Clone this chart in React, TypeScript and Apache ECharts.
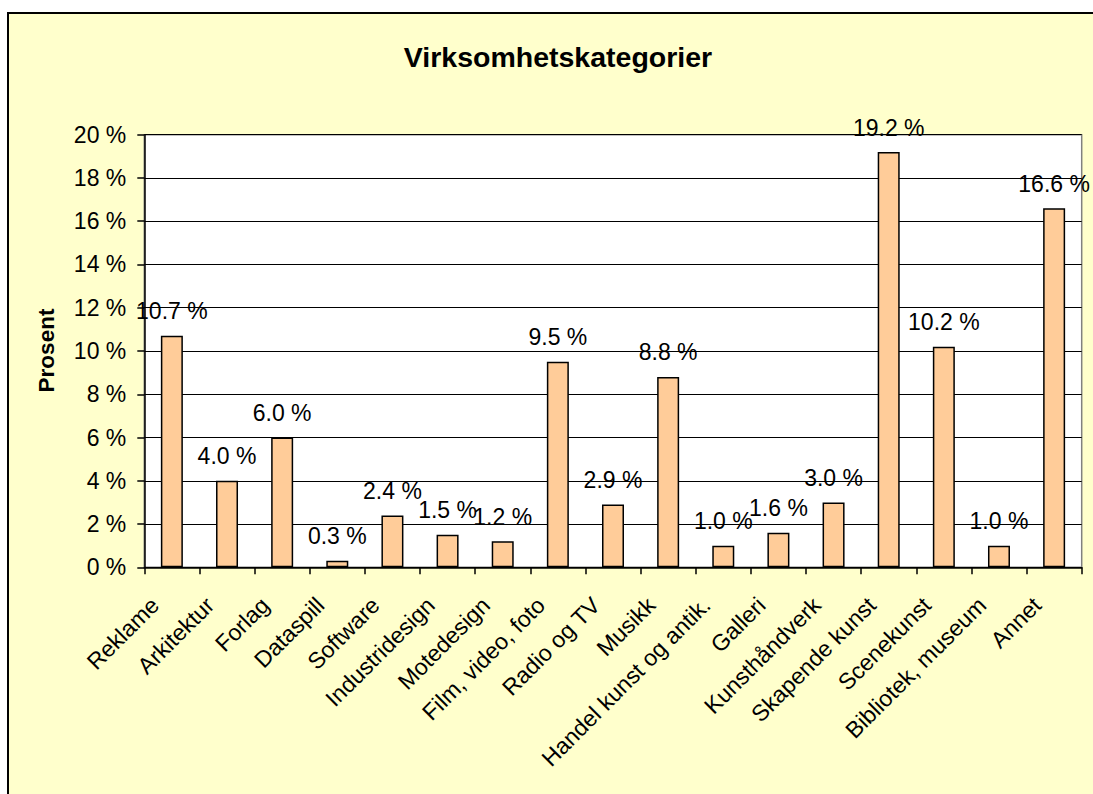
import React, { useEffect, useRef } from "react";
import * as echarts from "echarts";

const categories = [
  "Reklame", "Arkitektur", "Forlag", "Dataspill", "Software", "Industridesign",
  "Motedesign", "Film, video, foto", "Radio og TV", "Musikk", "Handel kunst og antik.",
  "Galleri", "Kunsthåndverk", "Skapende kunst", "Scenekunst", "Bibliotek, museum", "Annet",
];
const values = [10.7, 4.0, 6.0, 0.3, 2.4, 1.5, 1.2, 9.5, 2.9, 8.8, 1.0, 1.6, 3.0, 19.2, 10.2, 1.0, 16.6];
const titleText = "Virksomhetskategorier";
const yAxisTitle = "Prosent";

const FONT = "'Liberation Sans', Arial, sans-serif";

export default function App() {
  const ref = useRef<HTMLDivElement>(null);
  useEffect(() => {
    if (!ref.current) return;
    const chart = echarts.init(ref.current, null, { renderer: "svg" });
    chart.setOption({
      animation: false,
      backgroundColor: "#FFFFCC",
      title: {
        text: titleText,
        left: 544,
        top: 23,
        textAlign: "center",
        textStyle: { fontFamily: FONT, fontSize: 28.5, fontWeight: "bold", color: "#000" },
      },
      graphic: [
        {
          type: "text",
          x: 37.5,
          y: 336.5,
          rotation: Math.PI / 2,
          style: {
            text: yAxisTitle,
            font: `bold 22.5px ${FONT}`,
            fill: "#000",
            align: "center",
            verticalAlign: "middle",
          },
        },
      ],
      grid: {
        left: 135.3,
        top: 120.7,
        right: 27.3,
        bottom: 246.7,
        show: true,
        backgroundColor: "#FFFFFF",
        borderColor: "#808080",
        borderWidth: 1.5,
      },
      xAxis: {
        type: "category",
        data: categories,
        boundaryGap: true,
        axisLine: { show: true, lineStyle: { color: "#000", width: 1.5 } },
        axisTick: { show: true, length: 7, alignWithLabel: false, lineStyle: { color: "#000", width: 1.5 } },
        axisLabel: {
          interval: 0,
          rotate: 45,
          margin: 17,
          padding: [0, 24, 0, 0],
          fontFamily: FONT,
          fontSize: 23,
          color: "#000",
        },
      },
      yAxis: {
        type: "value",
        min: 0,
        max: 20,
        interval: 2,
        axisLine: { show: true, lineStyle: { color: "#000", width: 1.5 } },
        axisTick: { show: true, length: 7, lineStyle: { color: "#000", width: 1.5 } },
        splitLine: { show: true, lineStyle: { color: "#000", width: 1 } },
        axisLabel: {
          margin: 18,
          formatter: (v: number) => `${v} %`,
          fontFamily: FONT,
          fontSize: 23,
          color: "#000",
        },
      },
      series: [
        {
          type: "bar",
          data: values,
          barWidth: 22,
          itemStyle: { color: "#FFCC99", borderColor: "#000", borderWidth: 1.5 },
          label: {
            show: true,
            position: "top",
            distance: 13,
            formatter: (p: any) => `${Number(p.value).toFixed(1)} %`,
            fontFamily: FONT,
            fontSize: 23,
            color: "#000",
          },
        },
      ],
    });
    return () => chart.dispose();
  }, []);

  return (
    <div
      style={{
        position: "fixed",
        left: 7,
        top: 12,
        border: "2px solid #000",
        width: 1100,
        height: 800,
        background: "#FFFFCC",
      }}
    >
      <div ref={ref} style={{ width: 1100, height: 800 }} />
    </div>
  );
}
